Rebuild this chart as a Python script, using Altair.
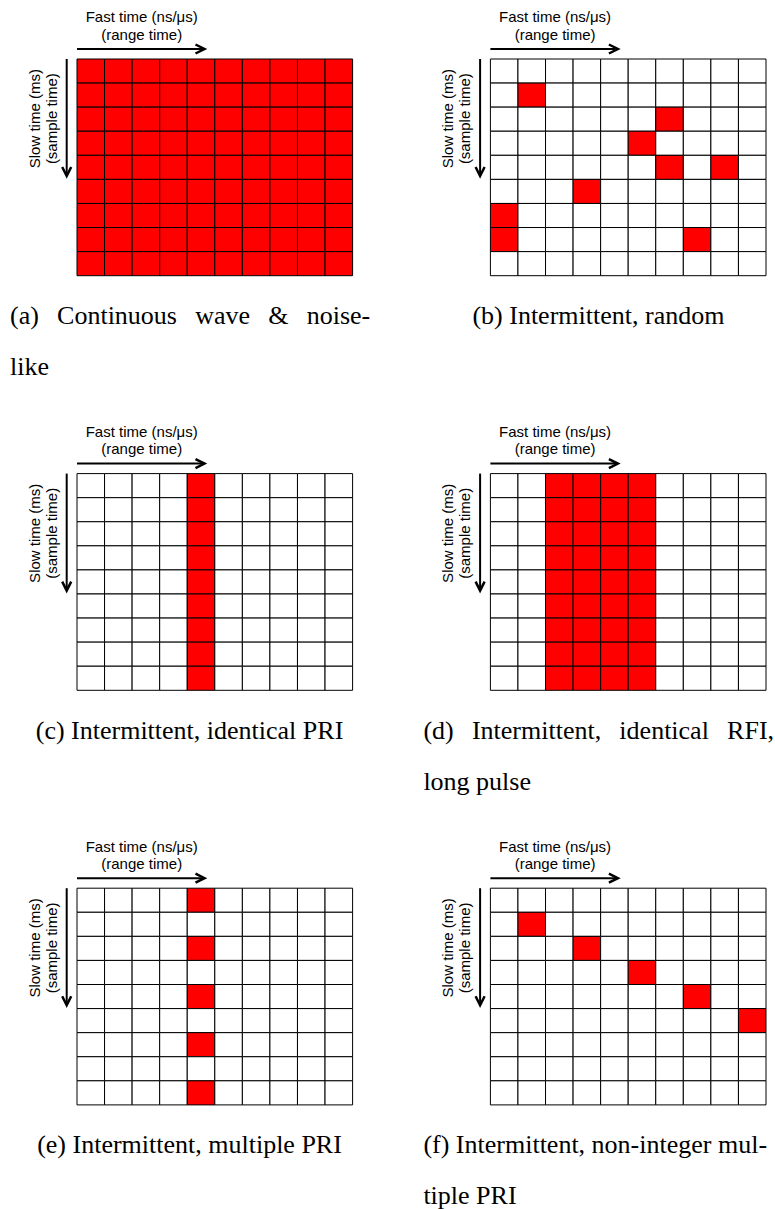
import altair as alt
import pandas as pd

# ---------------- data ----------------
N_COLS = 10          # fast-time bins
N_ROWS = 9           # slow-time bins
panel_ids = ["a", "b", "c", "d", "e", "f"]

# red cells, given as (column, row) lists
red_a_cols = list(range(N_COLS))           # every cell
red_a_rows = list(range(N_ROWS))
red_b_cols = [1, 6, 5, 6, 8, 3, 0, 0, 7]
red_b_rows = [1, 2, 3, 4, 4, 5, 6, 7, 7]
red_c_cols = [4]                           # every row
red_d_cols = [2, 3, 4, 5]                  # every row
red_e_col = [4]
red_e_rows = [0, 2, 4, 6, 8]
red_f_cols = [1, 3, 5, 7, 9]
red_f_rows = [1, 2, 3, 4, 5]

NB = "\u00a0"
TH = "\u2009"
GAP = NB + NB + TH
captions_line1 = {
    "a": "(a)" + GAP + "Continuous" + GAP + "wave" + GAP + "&" + GAP + "noise-",
    "b": "(b) Intermittent, random",
    "c": "(c) Intermittent, identical PRI",
    "d": "(d)" + GAP + "Intermittent," + GAP + "identical" + GAP + "RFI,",
    "e": "(e) Intermittent, multiple PRI",
    "f": "(f) Intermittent, non-integer mul-",
}
captions_line2 = {"a": "like", "d": "long pulse", "f": "tiple PRI"}

fast_label = ["Fast time (ns/μs)", "(range time)"]
slow_label = ["Slow time (ms)", "(sample time)"]

# ---------------- build cell table ----------------
red_sets = {
    "a": {(c, r) for c in red_a_cols for r in red_a_rows},
    "b": set(zip(red_b_cols, red_b_rows)),
    "c": {(c, r) for c in red_c_cols for r in range(N_ROWS)},
    "d": {(c, r) for c in red_d_cols for r in range(N_ROWS)},
    "e": {(c, r) for c in red_e_col for r in red_e_rows},
    "f": set(zip(red_f_cols, red_f_rows)),
}
rows = []
for p in panel_ids:
    for c in range(N_COLS):
        for r in range(N_ROWS):
            rows.append({"panel": p, "col": c, "col_end": c + 1, "row": r, "row_end": r + 1,
                         "state": "on" if (c, r) in red_sets[p] else "off"})
cells = pd.DataFrame(rows)
one = pd.DataFrame({"k": [0]})

W, H = 275.6, 216.7
SANS = "Liberation Sans"
SERIF = "Liberation Serif"


def panel(pid, idx):
    d = cells[cells.panel == pid]
    grid = alt.Chart(d).mark_rect(stroke="black", strokeWidth=1).encode(
        x=alt.X("col:Q", scale=alt.Scale(domain=[0, N_COLS], nice=False, zero=False), axis=None),
        x2="col_end:Q",
        y=alt.Y("row:Q", scale=alt.Scale(domain=[0, N_ROWS], nice=False, reverse=True), axis=None),
        y2="row_end:Q",
        fill=alt.Fill("state:N", scale=alt.Scale(domain=["off", "on"], range=["white", "#ff0000"]),
                      legend=None),
    )
    layers = [grid]
    # arrows
    layers.append(alt.Chart(one).mark_rule(color="black", strokeWidth=2).encode(
        x=alt.value(0), x2=alt.value(125), y=alt.value(-10)))
    layers.append(alt.Chart(one).mark_point(shape="M-2,-1L0,0L-2,1", size=81, filled=False,
                                            color="black", strokeWidth=2.5, opacity=1).encode(
        x=alt.value(127.5), y=alt.value(-10)))
    layers.append(alt.Chart(one).mark_rule(color="black", strokeWidth=2).encode(
        x=alt.value(-10.3), y=alt.value(0), y2=alt.value(114.5)))
    layers.append(alt.Chart(one).mark_point(shape="M-1,-2L0,0L1,-2", size=81, filled=False,
                                            color="black", strokeWidth=2.5, opacity=1).encode(
        x=alt.value(-10.3), y=alt.value(117)))
    # axis-like labels
    for i, t in enumerate(fast_label):
        layers.append(alt.Chart(one).mark_text(text=t, font=SANS, fontSize=15, color="black",
                                               align="center", baseline="alphabetic").encode(
            x=alt.value(64.7), y=alt.value(-36.6 + 17.3 * i)))
    for i, t in enumerate(slow_label):
        layers.append(alt.Chart(one).mark_text(text=t, font=SANS, fontSize=15, color="black",
                                               align="center", baseline="alphabetic",
                                               angle=270).encode(
            x=alt.value(-37.5 + 17.3 * i), y=alt.value(59.7)))
    # captions
    left_x = -67
    cap_y = 265
    if pid in captions_line2:
        layers.append(alt.Chart(one).mark_text(text=captions_line1[pid], font=SERIF, fontSize=26,
                                               color="black", align="left",
                                               baseline="alphabetic").encode(
            x=alt.value(left_x), y=alt.value(cap_y)))
        layers.append(alt.Chart(one).mark_text(text=captions_line2[pid], font=SERIF, fontSize=26,
                                               color="black", align="left",
                                               baseline="alphabetic").encode(
            x=alt.value(left_x), y=alt.value(cap_y + 51)))
    else:
        cx = 112.5 if idx % 2 == 0 else 108
        layers.append(alt.Chart(one).mark_text(text=captions_line1[pid], font=SERIF, fontSize=26,
                                               color="black", align="center",
                                               baseline="alphabetic").encode(
            x=alt.value(cx), y=alt.value(cap_y)))
    if idx == 0:
        # invisible anchor fixing the page origin of the first panel
        layers.append(alt.Chart(one).mark_rule(strokeWidth=0, opacity=0).encode(
            x=alt.value(-77), x2=alt.value(-77), y=alt.value(-59), y2=alt.value(-59)))
    return alt.layer(*layers).properties(width=W, height=H)


panels = [panel(p, i) for i, p in enumerate(panel_ids)]
chart = alt.concat(*panels, columns=2, spacing={"row": 197.6, "column": 137.4},
                   bounds="flush").properties(padding=0).configure_view(stroke=None)

chart.save("out.html", embed_options={"renderer": "svg", "actions": False})
